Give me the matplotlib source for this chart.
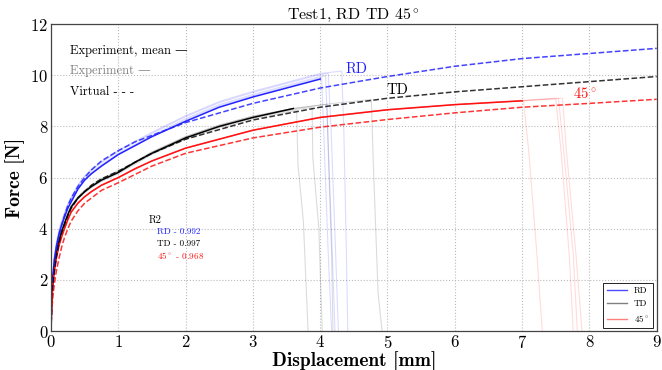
import numpy as np
import matplotlib
matplotlib.use('Agg')
import matplotlib.pyplot as plt
from matplotlib.lines import Line2D

plt.rcParams['font.family'] = ['cmr10', 'DejaVu Serif']
plt.rcParams['mathtext.fontset'] = 'cm'
plt.rcParams['axes.formatter.use_mathtext'] = True

# mean experiment curves
rd_mean_x = [0, 0.01, 0.03, 0.05, 0.08, 0.12, 0.16, 0.2, 0.25, 0.3, 0.4, 0.5, 0.6, 0.75,
             1.0, 1.25, 1.5, 2.0, 2.5, 3.0, 3.5, 4.0]
rd_mean_y = [0, 1.2, 2.2, 2.8, 3.3, 3.8, 4.15, 4.45, 4.8, 5.05, 5.55, 5.9, 6.15, 6.45,
             6.9, 7.25, 7.6, 8.2, 8.75, 9.15, 9.5, 9.85]
td_mean_x = [0, 0.01, 0.03, 0.05, 0.08, 0.12, 0.16, 0.2, 0.25, 0.3, 0.4, 0.5, 0.6, 0.75,
             1.0, 1.25, 1.5, 2.0, 2.5, 3.0, 3.6]
td_mean_y = [0, 1.1, 2.0, 2.5, 3.0, 3.55, 3.9, 4.2, 4.55, 4.85, 5.2, 5.45, 5.65, 5.9,
             6.2, 6.6, 6.95, 7.55, 8.0, 8.35, 8.7]
d45_mean_x = [0, 0.01, 0.03, 0.05, 0.08, 0.12, 0.16, 0.2, 0.25, 0.3, 0.4, 0.5, 0.6, 0.75,
              1.0, 1.25, 1.5, 2.0, 3.0, 4.0, 5.0, 6.0, 7.0]
d45_mean_y = [0, 1.0, 1.9, 2.35, 2.85, 3.35, 3.7, 4.0, 4.35, 4.65, 5.0, 5.25, 5.45, 5.7,
              6.0, 6.35, 6.65, 7.15, 7.85, 8.35, 8.65, 8.85, 9.0]

# virtual (simulation) curves
rd_virt_x = [0, 0.01, 0.03, 0.05, 0.08, 0.12, 0.16, 0.2, 0.25, 0.3, 0.4, 0.5, 0.6, 0.75,
             1.0, 1.25, 1.5, 2.0, 3.0, 4.0, 5.0, 6.0, 7.0, 8.0, 9.0]
rd_virt_y = [0, 1.0, 2.0, 2.5, 3.1, 3.7, 4.15, 4.5, 4.9, 5.2, 5.65, 6.0, 6.3, 6.65,
             7.05, 7.4, 7.65, 8.15, 8.9, 9.5, 9.95, 10.35, 10.65, 10.85, 11.05]
td_virt_x = [0, 0.01, 0.03, 0.05, 0.08, 0.12, 0.16, 0.2, 0.25, 0.3, 0.4, 0.5, 0.6, 0.75,
             1.0, 1.5, 2.0, 3.0, 4.0, 5.0, 6.0, 7.0, 8.0, 9.0]
td_virt_y = [0, 0.9, 1.8, 2.3, 2.9, 3.45, 3.85, 4.15, 4.5, 4.8, 5.2, 5.45, 5.7, 5.95,
             6.25, 6.95, 7.5, 8.25, 8.75, 9.1, 9.35, 9.55, 9.75, 9.95]
d45_virt_x = [0, 0.01, 0.03, 0.05, 0.08, 0.12, 0.16, 0.2, 0.25, 0.3, 0.4, 0.5, 0.6, 0.75,
              1.0, 1.5, 2.0, 3.0, 4.0, 5.0, 6.0, 7.0, 8.0, 9.0]
d45_virt_y = [0, 0.7, 1.4, 1.85, 2.35, 2.85, 3.3, 3.65, 4.0, 4.3, 4.7, 5.0, 5.2, 5.5,
              5.8, 6.45, 6.95, 7.55, 7.97, 8.27, 8.53, 8.75, 8.9, 9.06]

# individual experiments: shared loading path, per-specimen offset, peak x and failure drop
rd_exp_x = [0, 0.01, 0.03, 0.05, 0.08, 0.12, 0.16, 0.2, 0.25, 0.3, 0.4, 0.5, 0.6, 0.75,
            1.0, 1.5, 2.0, 2.5, 3.0, 3.5, 4.0, 4.35]
rd_exp_y = [0, 1.2, 2.2, 2.8, 3.35, 3.85, 4.2, 4.5, 4.85, 5.1, 5.6, 5.95, 6.2, 6.5,
            6.95, 7.65, 8.3, 8.85, 9.25, 9.6, 9.95, 10.05]
rd_exp_offset = [-0.05, 0.0, 0.08, 0.12]
rd_exp_peak = [4.02, 4.08, 4.12, 4.32]
rd_exp_drop_x = [[4.05, 4.12, 4.17], [4.11, 4.18, 4.22], [4.16, 4.23, 4.27], [4.35, 4.39, 4.41]]
rd_exp_drop_y = [[8.0, 3.0, 0], [8.0, 3.0, 0], [8.0, 3.0, 0], [8.0, 3.0, 0]]

td_exp_x = [0, 0.01, 0.03, 0.05, 0.08, 0.12, 0.16, 0.2, 0.25, 0.3, 0.4, 0.5, 0.6, 0.75,
            1.0, 1.5, 2.0, 2.5, 3.0, 3.6, 4.2, 4.75]
td_exp_y = [0, 1.1, 2.0, 2.5, 3.0, 3.55, 3.9, 4.2, 4.55, 4.85, 5.2, 5.45, 5.65, 5.9,
            6.2, 6.95, 7.55, 8.0, 8.35, 8.65, 8.85, 9.0]
td_exp_offset = [-0.05, 0.0, 0.05, 0.05]
td_exp_peak = [3.65, 3.88, 4.1, 4.76]
td_exp_drop_x = [[3.67, 3.75, 3.82], [3.89, 3.98, 4.03], [4.12, 4.17, 4.19], [4.79, 4.86, 4.92]]
td_exp_drop_y = [[6.5, 4.3, 0], [6.8, 4.0, 0], [7.0, 3.0, 0], [6.5, 1.5, 0]]

d45_exp_x = [0, 0.01, 0.03, 0.05, 0.08, 0.12, 0.16, 0.2, 0.25, 0.3, 0.4, 0.5, 0.6, 0.75,
             1.0, 1.5, 2.0, 3.0, 4.0, 5.0, 6.0, 7.0, 7.6]
d45_exp_y = [0, 1.0, 1.9, 2.35, 2.85, 3.35, 3.7, 4.0, 4.35, 4.65, 5.0, 5.25, 5.45, 5.7,
             6.0, 6.65, 7.15, 7.85, 8.35, 8.65, 8.85, 9.0, 9.1]
d45_exp_offset = [0.0, 0.0, 0.02, 0.0]
d45_exp_peak = [7.02, 7.5, 7.54, 7.6]
d45_exp_drop_x = [[7.1, 7.22, 7.3], [7.58, 7.7, 7.76], [7.62, 7.76, 7.82], [7.66, 7.8, 7.89]]
d45_exp_drop_y = [[7.0, 3.0, 0], [7.0, 3.0, 0], [7.0, 3.0, 0], [7.0, 3.0, 0]]

r2_labels = ['RD - 0.992', 'TD - 0.997', r'45$^\circ$ - 0.968']


def exp_curve(base_x, base_y, offset, peak, drop_x, drop_y):
    base_x = np.asarray(base_x)
    base_y = np.asarray(base_y) + offset
    keep = base_x < peak
    xs = np.concatenate([base_x[keep], [peak], drop_x])
    ys = np.concatenate([base_y[keep], [np.interp(peak, base_x, base_y)], drop_y])
    return xs, ys


fig = plt.figure(figsize=(6.62, 3.70), dpi=100)
ax = fig.add_axes([0.077, 0.105, 0.915, 0.83])

groups = [
    ('b', rd_exp_x, rd_exp_y, rd_exp_offset, rd_exp_peak, rd_exp_drop_x, rd_exp_drop_y),
    ('k', td_exp_x, td_exp_y, td_exp_offset, td_exp_peak, td_exp_drop_x, td_exp_drop_y),
    ('r', d45_exp_x, d45_exp_y, d45_exp_offset, d45_exp_peak, d45_exp_drop_x, d45_exp_drop_y),
]
for color, bx, by, offs, peaks, dxs, dys in groups:
    for off, pk, dx, dy in zip(offs, peaks, dxs, dys):
        xs, ys = exp_curve(bx, by, off, pk, dx, dy)
        ax.plot(xs, ys, color=color, lw=0.8, alpha=0.14)

ax.plot(rd_mean_x, rd_mean_y, color='#2222ff', lw=1.1)
ax.plot(td_mean_x, td_mean_y, color='k', lw=1.1)
ax.plot(d45_mean_x, d45_mean_y, color='#ff1111', lw=1.1)

ax.plot(rd_virt_x, rd_virt_y, '--', color='#2222ff', lw=1.1, alpha=0.85)
ax.plot(td_virt_x, td_virt_y, '--', color='k', lw=1.1, alpha=0.8)
ax.plot(d45_virt_x, d45_virt_y, '--', color='#ff1111', lw=1.1, alpha=0.85)

ax.text(4.38, 10.25, 'RD', color='#2222ff', fontsize=10.5, va='center')
ax.text(4.98, 9.4, 'TD', color='k', fontsize=10.5, va='center')
ax.text(7.75, 9.3, r'45$^\circ$', color='#ff1111', fontsize=10.5, va='center')

ax.text(0.28, 10.95, 'Experiment, mean \u2014', fontsize=9, va='center')
ax.text(0.28, 10.15, 'Experiment \u2014', fontsize=9, va='center', color='gray')
ax.text(0.28, 9.35, 'Virtual - - -', fontsize=9, va='center')

ax.text(1.45, 4.35, 'R2', fontsize=7.5, va='center')
for lab, yy, c in zip(r2_labels, [3.87, 3.43, 2.97], ['#2222ff', 'k', '#ff1111']):
    ax.text(1.58, yy, lab, fontsize=6.6, va='center', color=c)

handles = [Line2D([], [], color='b', lw=1, alpha=0.7),
           Line2D([], [], color='k', lw=1, alpha=0.5),
           Line2D([], [], color='r', lw=1, alpha=0.5)]
leg = ax.legend(handles, ['RD', 'TD', r'45$^\circ$'], loc='lower right', fontsize=6.5,
                fancybox=False, edgecolor='k', framealpha=1, handlelength=2.2,
                borderaxespad=0.4)
leg.get_frame().set_linewidth(0.6)

ax.set_xlim(0, 9)
ax.set_ylim(0, 12)
ax.set_xticks(range(0, 10))
ax.set_yticks(range(0, 13, 2))
ax.grid(True, linestyle=':', color='#bbbbbb', lw=0.8)
ax.tick_params(labelsize=12, length=0, pad=2)
for s in ax.spines.values():
    s.set_color('#444444')
    s.set_linewidth(0.9)
ax.set_xlabel('Displacement [mm]', fontsize=14, family='cmb10', labelpad=0)
ax.set_ylabel('Force [N]', fontsize=14, family='cmb10', labelpad=4)
ax.set_title(r'Test1, RD TD 45$^\circ$', fontsize=11.5, pad=3)

fig.savefig('out.png', dpi=100)
